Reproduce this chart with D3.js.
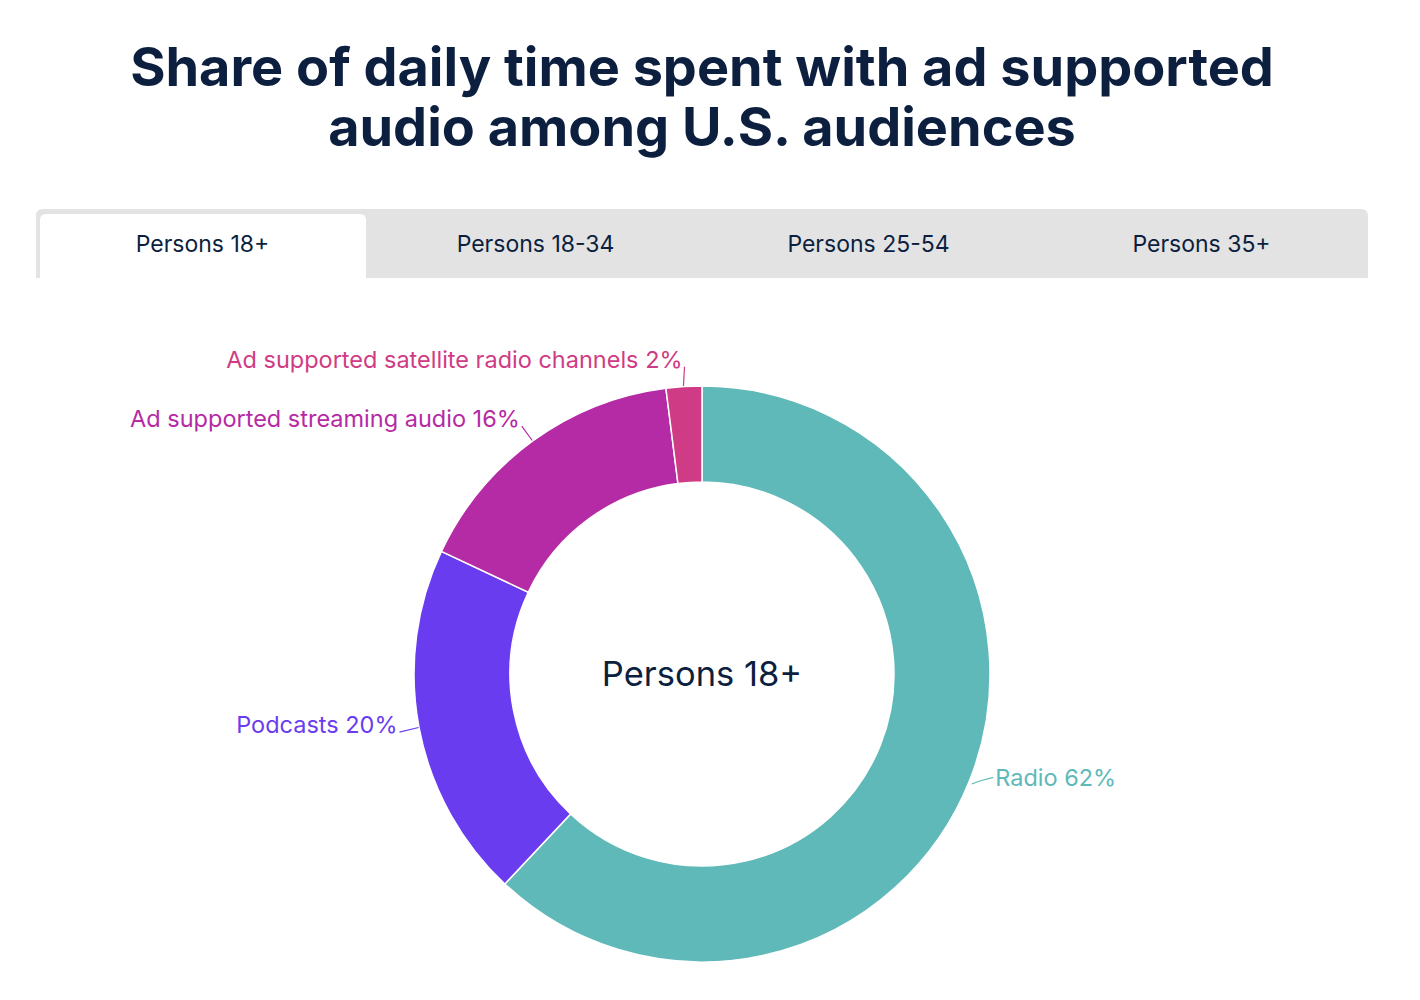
<!DOCTYPE html>
<html>
<head>
<meta charset="utf-8">
<script src="https://cdn.jsdelivr.net/npm/d3@7"></script>
<style>
	body { margin: 0; background: #fff; font-family: Inter, 'Noto Sans', sans-serif; }
	svg text { font-family: Inter, 'Noto Sans', sans-serif; }
</style>
</head>
<body>
<div id="chart"></div>
<script>
// Global vars
var TITLE_LINES = ['Share of daily time spent with ad supported', 'audio among U.S. audiences'];
var TABS = ['Persons 18+', 'Persons 18-34', 'Persons 25-54', 'Persons 35+'];
var ACTIVE_TAB = 0;
var CATEGORIES = ['Radio', 'Podcasts', 'Ad supported streaming audio', 'Ad supported satellite radio channels'];
var SHARES = [62, 20, 16, 2];
var COLORS = ['#60b9b9', '#6a3cef', '#b52aa5', '#d03b85'];

var WIDTH = 1420;
var HEIGHT = 1000;
var NAVY = '#0c1f3f';

/*
 * Render the graphic.
 */
var render = function() {
	var svg = d3.select('#chart')
		.append('svg')
		.attr('width', WIDTH)
		.attr('height', HEIGHT);

	// Title
	svg.append('g')
		.attr('class', 'title')
		.selectAll('text')
		.data(TITLE_LINES)
		.enter()
		.append('text')
		.attr('x', 702)
		.attr('y', function(d, i) { return 86 + i * 60; })
		.attr('text-anchor', 'middle')
		.attr('font-size', 54)
		.attr('font-weight', 700)
		.attr('fill', NAVY)
		.text(function(d) { return d; });

	/*
	 * Tabs
	 */
	var tabLeft = 36;
	var tabRight = 1368;
	var tabTop = 209;
	var tabBottom = 278;
	var tabScale = d3.scaleBand()
		.domain(TABS)
		.range([tabLeft, tabRight]);

	var tabs = svg.append('g').attr('class', 'tabs');

	tabs.append('path')
		.attr('fill', '#e3e3e3')
		.attr('d', roundTop(tabLeft, tabTop, tabRight - tabLeft, tabBottom - tabTop, 7));

	var active = TABS[ACTIVE_TAB];
	tabs.append('path')
		.attr('fill', '#fff')
		.attr('d', roundTop(tabScale(active) + 4, tabTop + 5, tabScale.bandwidth() - 7, tabBottom - tabTop - 5, 6));

	tabs.selectAll('text')
		.data(TABS)
		.enter()
		.append('text')
		.attr('x', function(d) { return tabScale(d) + tabScale.bandwidth() / 2; })
		.attr('y', 252)
		.attr('text-anchor', 'middle')
		.attr('font-size', 23)
		.attr('fill', NAVY)
		.text(function(d) { return d; });

	/*
	 * Donut
	 */
	var cx = 702;
	var cy = 674;
	var outerR = 288;
	var innerR = 192;

	var data = CATEGORIES.map(function(c, i) {
		return { name: c, value: SHARES[i], color: COLORS[i] };
	});

	var pie = d3.pie()
		.sort(null)
		.value(function(d) { return d.value; });

	var arc = d3.arc()
		.innerRadius(innerR)
		.outerRadius(outerR);

	var arcs = pie(data);

	var chartElement = svg.append('g')
		.attr('transform', 'translate(' + cx + ',' + cy + ')');

	chartElement.append('g')
		.selectAll('path')
		.data(arcs)
		.enter()
		.append('path')
		.attr('fill', function(d) { return d.data.color; })
		.attr('stroke', '#fff')
		.attr('stroke-width', 1.5)
		.attr('d', arc);

	// Data labels with connectors
	var labels = chartElement.append('g').attr('class', 'labels');

	arcs.forEach(function(d) {
		var a = (d.startAngle + d.endAngle) / 2;
		var sx = Math.sin(a);
		var sy = -Math.cos(a);
		var right = sx >= 0;
		var ex = outerR * sx;
		var ey = outerR * sy;
		var lx = (outerR + 22) * sx;
		var ly = sy > 0 ? (outerR + 1) * sy - 3 : (outerR + 27) * sy;
		var tx = right ? lx + 5 : lx;
		var path;

		if (right) {
			path = 'M' + (ex + 2) + ',' + (ey + 4) +
				'L' + (ex + 10) + ',' + (ey + 1) +
				'L' + (tx - 2) + ',' + ly;
		} else {
			path = 'M' + (ex - 0.5) + ',' + (ey - 0.5) +
				'L' + (lx + 2) + ',' + (ly + 7);
		}

		labels.append('path')
			.attr('fill', 'none')
			.attr('stroke', d.data.color)
			.attr('stroke-width', 1.2)
			.attr('d', path);

		labels.append('text')
			.attr('x', tx)
			.attr('y', ly)
			.attr('dy', '0.35em')
			.attr('text-anchor', right ? 'start' : 'end')
			.attr('font-size', 23.5)
			.attr('fill', d.data.color)
			.text(d.data.name + ' ' + d.data.value + '%');
	});

	// Center label
	chartElement.append('text')
		.attr('x', 0)
		.attr('y', 0)
		.attr('dy', '0.35em')
		.attr('text-anchor', 'middle')
		.attr('font-size', 34.5)
		.attr('fill', NAVY)
		.text(TABS[ACTIVE_TAB]);
};

/*
 * Rectangle path with rounded top corners.
 */
var roundTop = function(x, y, w, h, r) {
	return 'M' + x + ',' + (y + h) +
		'L' + x + ',' + (y + r) +
		'Q' + x + ',' + y + ',' + (x + r) + ',' + y +
		'L' + (x + w - r) + ',' + y +
		'Q' + (x + w) + ',' + y + ',' + (x + w) + ',' + (y + r) +
		'L' + (x + w) + ',' + (y + h) + 'Z';
};

render();
</script>
</body>
</html>
